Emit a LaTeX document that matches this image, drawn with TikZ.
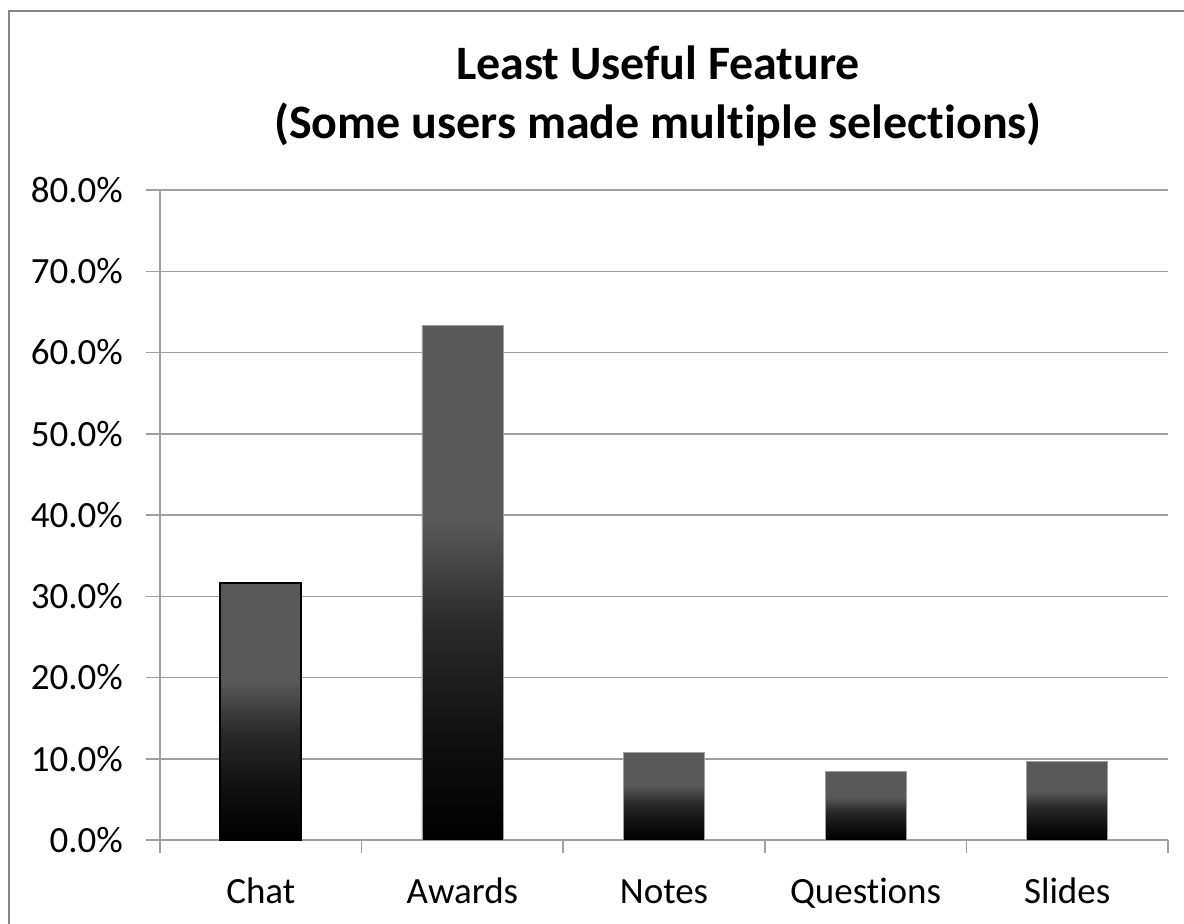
\documentclass[tikz,border=0pt]{standalone}
\usepackage{fontspec}
\setmainfont{Carlito}[Ligatures=NoCommon]
\definecolor{framegray}{HTML}{868686}
\definecolor{gridgray}{HTML}{A0A0A0}
\definecolor{barlight}{HTML}{595959}
\definecolor{barmid}{HTML}{2A2A2A}
\definecolor{bardark}{HTML}{101010}
\pgfdeclareverticalshading{barshade}{100bp}{color(0bp)=(black); color(25bp)=(black); color(35bp)=(bardark); color(46bp)=(barmid); color(56bp)=(barlight); color(100bp)=(barlight)}
\tikzset{
  gridline/.style={draw=gridgray, line width=1.5pt},
  ticklabel/.style={anchor=east, inner sep=0pt, font=\fontsize{37}{40}\selectfont},
  catlabel/.style={anchor=base, inner sep=0pt, font=\fontsize{37}{40}\selectfont},
  titletext/.style={align=center, inner sep=0pt, font=\fontsize{48}{59}\selectfont\bfseries},
  barfill/.style={shading=barshade},
}
\begin{document}
\begin{tikzpicture}[x=1pt, y=-1pt]
\useasboundingbox (0,0) rectangle (1184,924);
\fill[white] (0,0) rectangle (1184,924);
% outer frame (runs off the right and bottom edges)
\draw[framegray, line width=2.2pt] (9,11) rectangle (1200,940);
% title
\node[titletext] (title) at (658,96) {Least Useful Feature\\(Some users made multiple selections)};
% gridlines and y labels
\foreach \v/\lab in {0/0.0\%,1/10.0\%,2/20.0\%,3/30.0\%,4/40.0\%,5/50.0\%,6/60.0\%,7/70.0\%,8/80.0\%}{
  \draw[gridline] (146,840-81.25*\v) -- (1168,840-81.25*\v);
  \node[ticklabel] (y\v) at (123,840-81.25*\v) {\lab};
}
% y axis
\draw[gridline] (160,190) -- (160,853);
% category ticks
\foreach \i in {0,...,5}{
  \draw[gridline] (160+201.6*\i,840) -- (160+201.6*\i,853);
}
% bars
\shade[barfill] (220.3,840) rectangle (301.3,583);
\draw[black, line width=1.8pt] (220.3,840) rectangle (301.3,583);
\shade[barfill] (421.9,840) rectangle (502.9,325);
\draw[gridgray, line width=0.8pt] (421.9,840) rectangle (502.9,325);
\shade[barfill] (623.5,840) rectangle (704.5,752);
\draw[gridgray, line width=0.8pt] (623.5,840) rectangle (704.5,752);
\shade[barfill] (825.1,840) rectangle (906.1,771);
\draw[gridgray, line width=0.8pt] (825.1,840) rectangle (906.1,771);
\shade[barfill] (1026.7,840) rectangle (1107.7,761);
\draw[gridgray, line width=0.8pt] (1026.7,840) rectangle (1107.7,761);
% category labels
\node[catlabel] (cChat) at (260.8,903) {Chat};
\node[catlabel] (cAwards) at (462.4,903) {Awards};
\node[catlabel] (cNotes) at (664,903) {Notes};
\node[catlabel] (cQuestions) at (865.6,903) {Questions};
\node[catlabel] (cSlides) at (1067.2,903) {Slides};
\end{tikzpicture}
\end{document}
